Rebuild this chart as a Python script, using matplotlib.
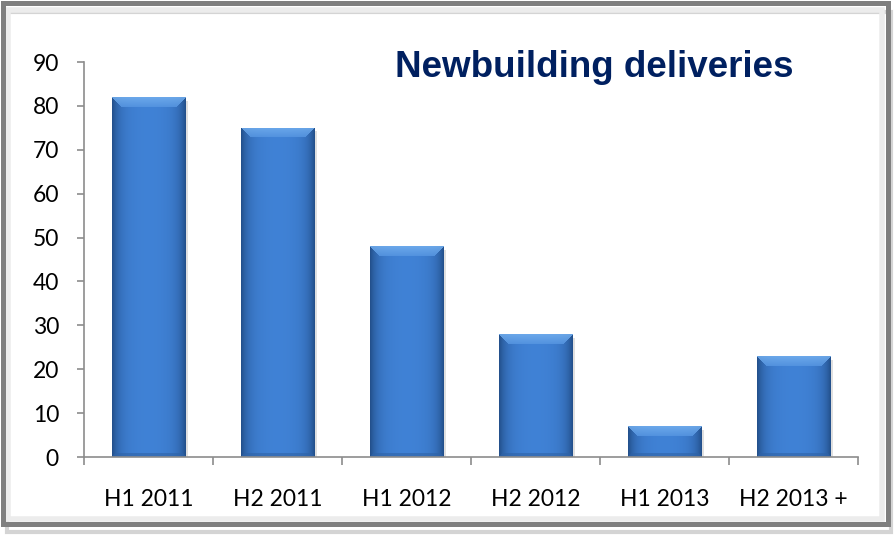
import numpy as np
import matplotlib.pyplot as plt
from matplotlib.patches import Rectangle
from matplotlib.ticker import MultipleLocator, FixedLocator

categories = ['H1 2011', 'H2 2011', 'H1 2012', 'H2 2012', 'H1 2013', 'H2 2013 +']
deliveries = [82, 75, 48, 28, 7, 23]
title = 'Newbuilding deliveries'

W, H, DPI = 894, 535, 100
fig = plt.figure(figsize=(W / DPI, H / DPI), dpi=DPI)
fig.patch.set_facecolor('white')

# axes placed in pixels: y axis at x=84, x axis from 84 to 858, 0 at y=457, 90 at y=62
ax = fig.add_axes([84 / W, (H - 457) / H, (858 - 84) / W, (457 - 62) / H])

# frame around the chart: outer shadow, inner soft band, gray border
fig.patches.append(Rectangle((7 / W, 3 / H), 884 / W, 520 / H, transform=fig.transFigure,
                             fill=False, edgecolor='#d4d4d4', lw=3, zorder=0))
fig.patches.append(Rectangle((8 / W, 16 / H), 874 / W, 509 / H, transform=fig.transFigure,
                             fill=False, edgecolor='#ececec', lw=4, zorder=0))
fig.patches.append(Rectangle((2.5 / W, 11 / H), 885 / W, 521.5 / H, transform=fig.transFigure,
                             fill=False, edgecolor='#7f7f7f', lw=3.6, zorder=1))

bw = 0.57
bars = ax.bar(range(len(categories)), deliveries, width=bw, color='#3a78c8',
              edgecolor='#2f5e9c', lw=0.5, zorder=2)

px_y = (457 - 62) / 90.0
px_x = (858 - 84) / len(categories)
mid = np.array([0x40, 0x82, 0xd6]) / 255
edge = np.array([0x23, 0x50, 0x8c]) / 255
top_c = np.array([0x72, 0xae, 0xee]) / 255
bot_c = np.array([0x2e, 0x62, 0xa6]) / 255
bev = 10

for b in bars:
    x0, w, h = b.get_x(), b.get_width(), b.get_height()
    wp = max(int(round(w * px_x)), 2)
    hp = max(int(round(h * px_y)), 2)
    jj, ii = np.meshgrid(np.arange(wp), np.arange(hp))
    d = np.minimum(jj, wp - 1 - jj)
    t = np.exp(-d / 7.0) * 0.85 + (np.abs(jj / (wp - 1) - 0.5) * 2) ** 2 * 0.15
    img = mid * (1 - t[..., None]) + edge * t[..., None]
    bb = min(bev, hp // 2)
    top = (ii < bb) & (jj >= ii) & (jj <= wp - 1 - ii)
    bot = (ii >= hp - 4) & (jj >= hp - 1 - ii) & (jj <= wp - 1 - (hp - 1 - ii))
    f = (ii / max(bb, 1))[..., None]
    topcol = top_c * (1 - 0.6 * f) + mid * 0.6 * f
    img = np.where(top[..., None], topcol * 0.85 + img * 0.15, img)
    img = np.where(bot[..., None], bot_c * 0.6 + img * 0.4, img)
    # soft shadow under the bar
    ax.add_patch(Rectangle((x0 + 0.02, 0), w, h - 0.8, facecolor='#a8a8a8', alpha=0.35,
                           lw=0, zorder=1.5, clip_on=False))
    im = ax.imshow(img, extent=(x0, x0 + w, 0, h), aspect='auto', zorder=2.5,
                   interpolation='bilinear')
    im.set_clip_path(b)

ax.set_aspect('auto')
ax.set_xlim(-0.5, len(categories) - 0.5)
ax.set_ylim(0, 90)

for s in ['top', 'right']:
    ax.spines[s].set_visible(False)
for s in ['left', 'bottom']:
    ax.spines[s].set_color('#8c8c8c')
    ax.spines[s].set_linewidth(1.2)

ax.yaxis.set_major_locator(MultipleLocator(10))
ax.tick_params(axis='y', length=5, width=1.2, color='#8c8c8c', pad=13,
               labelsize=16.5, labelcolor='black')
ax.set_xticks(range(len(categories)))
ax.set_xticklabels(categories)
ax.xaxis.set_minor_locator(FixedLocator(np.arange(-0.5, len(categories), 1.0)))
ax.tick_params(axis='x', which='major', length=0, pad=23, labelsize=16.5, labelcolor='black')
ax.tick_params(axis='x', which='minor', length=6, width=1.2, color='#8c8c8c')
for lab in ax.get_xticklabels() + ax.get_yticklabels():
    lab.set_family('Lato')

fig.text(594 / W, 1 - 77 / H, title, ha='center', va='baseline', fontsize=26.5,
         fontweight='bold', color='#002060', family='Liberation Sans')

fig.savefig('out.png', dpi=DPI)
